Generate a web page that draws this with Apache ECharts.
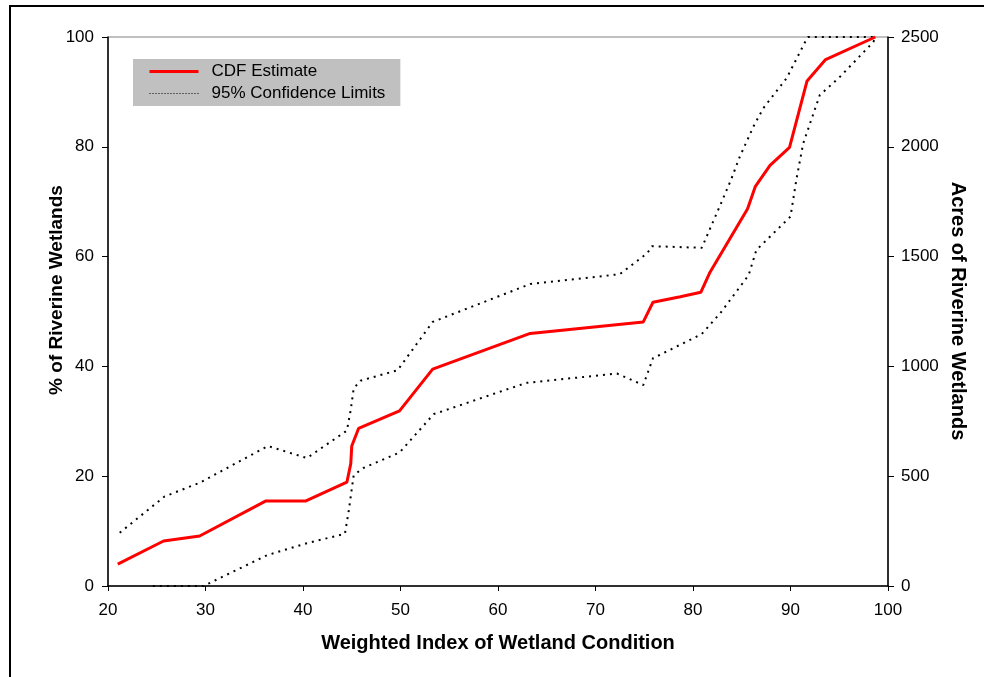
<!DOCTYPE html>
<html>
<head>
<meta charset="utf-8">
<title>Weighted Index of Wetland Condition - CDF</title>
<script src="https://cdn.jsdelivr.net/npm/echarts@6/dist/echarts.min.js"></script>
<style>
  html, body { margin: 0; padding: 0; background: #ffffff; }
  #chart { width: 984px; height: 677px; }
</style>
</head>
<body>
<div id="chart"></div>
<script>
// Cumulative distribution estimate of wetland condition index
const cdfX = [21.0, 25.7, 29.4, 36.2, 40.3, 44.5, 44.9, 45.0, 45.7, 49.9, 53.3, 63.3, 74.9, 75.9, 78.7, 80.8, 81.7, 85.6, 86.4, 87.9, 89.9, 91.7, 93.6, 98.7];
const cdfY = [4.0, 8.2, 9.1, 15.5, 15.5, 18.9, 22.3, 25.5, 28.7, 31.9, 39.5, 46.0, 48.1, 51.7, 52.7, 53.5, 57.0, 68.7, 72.8, 76.6, 79.9, 92.0, 95.9, 100.0];

// Upper 95% confidence limit
const upperX = [21.2, 25.8, 29.4, 36.4, 40.4, 44.5, 44.9, 45.2, 45.9, 49.7, 53.3, 63.3, 72.5, 75.3, 75.8, 80.9, 82.8, 83.9, 84.8, 86.2, 87.2, 89.6, 91.5, 91.8, 98.7];
const upperY = [9.7, 16.3, 18.8, 25.5, 23.3, 28.3, 32.1, 36.0, 37.4, 39.3, 48.1, 55.0, 56.8, 60.6, 61.9, 61.6, 69.4, 74.0, 78.2, 83.7, 87.0, 92.5, 99.1, 100.0, 100.0];

// Lower 95% confidence limit
const lowerX = [24.6, 29.8, 36.3, 40.4, 44.3, 44.7, 45.2, 46.2, 49.9, 50.3, 53.4, 62.9, 72.2, 74.9, 75.9, 76.6, 80.9, 82.8, 85.7, 86.5, 90.0, 90.6, 91.3, 93.0, 95.1, 98.5, 98.7];
const lowerY = [0.0, 0.0, 5.6, 7.8, 9.5, 13.8, 20.2, 21.5, 24.3, 25.1, 31.3, 37.0, 38.7, 36.6, 41.5, 42.1, 45.9, 49.7, 56.6, 61.2, 67.3, 74.0, 80.6, 89.4, 92.8, 99.1, 100.0];

// Axis tick settings
const xTicks = { min: 20, max: 100, step: 10 };
const pctTicks = { min: 0, max: 100, step: 20 };
const acreTicks = { min: 0, max: 2500, step: 500 };

const seriesNames = ['CDF Estimate', '95% Confidence Limits'];
const axisTitles = {
  x: 'Weighted Index of Wetland Condition',
  left: '% of Riverine Wetlands',
  right: 'Acres of Riverine Wetlands'
};

const pairs = (xs, ys) => xs.map((x, i) => [x, ys[i]]);

const FONT = '"Liberation Sans", Arial, Helvetica, sans-serif';
const black = '#000000';

const chart = echarts.init(document.getElementById('chart'), null, { renderer: 'canvas' });

const ciStyle = { color: black, width: 2, type: [2, 5] };
const plainLabel = (v) => String(v);

chart.setOption({
  animation: false,
  backgroundColor: '#ffffff',
  grid: {
    left: 108, right: 96, top: 37, bottom: 91,
    show: true, borderColor: '#808080', borderWidth: 1, backgroundColor: 'transparent'
  },
  legend: {
    left: 133, top: 59,
    orient: 'vertical',
    backgroundColor: '#c0c0c0',
    padding: [4, 15, 4, 15],
    itemWidth: 49, itemHeight: 14, itemGap: 5,
    selectedMode: false,
    itemStyle: { opacity: 0 },
    textStyle: { fontFamily: FONT, fontSize: 17, color: black, lineHeight: 17, padding: [0, 0, 0, 8] },
    data: [
      { name: seriesNames[0], itemStyle: { opacity: 0 }, lineStyle: { color: '#ff0000', width: 3 } },
      { name: seriesNames[1], itemStyle: { opacity: 0 }, lineStyle: { color: black, width: 1.2, type: [1, 2] } }
    ]
  },
  xAxis: {
    type: 'value',
    min: xTicks.min, max: xTicks.max, interval: xTicks.step,
    axisLine: { show: true, onZero: false, lineStyle: { color: black, width: 1.5 } },
    axisTick: { show: true, inside: false, length: 5, lineStyle: { color: black, width: 1 } },
    axisLabel: { fontFamily: FONT, fontSize: 17, color: black, margin: 16, formatter: plainLabel },
    splitLine: { show: false }
  },
  yAxis: [
    {
      type: 'value', position: 'left',
      min: pctTicks.min, max: pctTicks.max, interval: pctTicks.step,
      axisLine: { show: true, onZero: false, lineStyle: { color: black, width: 1.5 } },
      axisTick: { show: true, inside: false, length: 6, lineStyle: { color: black, width: 1 } },
      axisLabel: { fontFamily: FONT, fontSize: 17, color: black, margin: 14, formatter: plainLabel },
      splitLine: { show: false }
    },
    {
      type: 'value', position: 'right',
      min: acreTicks.min, max: acreTicks.max, interval: acreTicks.step,
      axisLine: { show: true, onZero: false, lineStyle: { color: black, width: 1.5 } },
      axisTick: { show: true, inside: false, length: 6, lineStyle: { color: black, width: 1 } },
      axisLabel: { fontFamily: FONT, fontSize: 17, color: black, margin: 13, formatter: plainLabel },
      splitLine: { show: false }
    }
  ],
  series: [
    {
      name: seriesNames[1], type: 'line', yAxisIndex: 0,
      data: pairs(upperX, upperY), symbol: 'none', clip: false,
      lineStyle: ciStyle, itemStyle: { color: black }, z: 2
    },
    {
      name: seriesNames[1], type: 'line', yAxisIndex: 0,
      data: pairs(lowerX, lowerY), symbol: 'none', clip: false,
      lineStyle: ciStyle, itemStyle: { color: black }, z: 2
    },
    {
      name: seriesNames[0], type: 'line', yAxisIndex: 0,
      data: pairs(cdfX, cdfY), symbol: 'none', clip: false,
      lineStyle: { color: '#ff0000', width: 3 }, itemStyle: { color: '#ff0000' }, z: 3
    }
  ],
  graphic: [
    // page frame
    { type: 'line', shape: { x1: 9, y1: 6, x2: 984, y2: 6 }, style: { stroke: black, lineWidth: 2 }, silent: true },
    { type: 'line', shape: { x1: 10, y1: 5, x2: 10, y2: 677 }, style: { stroke: black, lineWidth: 2 }, silent: true },
    // axis titles
    {
      type: 'text', x: 498, y: 643,
      style: { text: axisTitles.x, font: 'bold 20px ' + FONT, fill: black, textAlign: 'center', textVerticalAlign: 'middle' }
    },
    {
      type: 'text', x: 57, y: 290, rotation: Math.PI / 2,
      style: { text: axisTitles.left, font: 'bold 19px ' + FONT, fill: black, textAlign: 'center', textVerticalAlign: 'middle' }
    },
    {
      type: 'text', x: 958, y: 311, rotation: -Math.PI / 2,
      style: { text: axisTitles.right, font: 'bold 20px ' + FONT, fill: black, textAlign: 'center', textVerticalAlign: 'middle' }
    }
  ]
});
</script>
</body>
</html>
